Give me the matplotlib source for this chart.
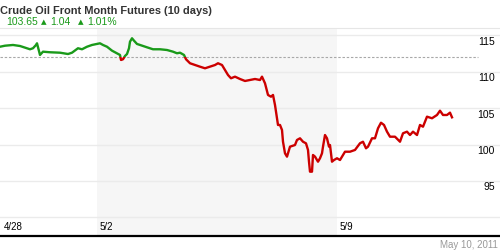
import matplotlib
matplotlib.use("Agg")
import matplotlib.pyplot as plt
import matplotlib.patches as mpatches
import numpy as np

# ---- data (time in hours from start of 4/28 session; 24 h per trading day) ----
hours = [0, 2.5, 6.5, 10, 13.5, 15, 16.5, 18, 18.5, 20, 21.5, 25, 30, 34, 36, 39, 41, 43.5, 46, 48.5,
         50, 51.5, 53.5, 56, 58.5, 60, 60.5, 61.5, 62.5, 63.5, 64.5, 65, 66, 67, 68.5, 70, 73.5, 76.5, 80,
         83.5, 86.5, 88.5, 90, 92, 93, 95, 97.5, 100, 102.5, 105, 107.5, 109, 111, 112.5, 114, 115.5,
         117.5, 120, 122.5, 125, 127.5, 130, 131, 132.5, 134, 135.5, 136.5, 137.5, 139, 140, 141, 141.5,
         142.5, 143.5, 145, 147.5, 148.5, 150, 151.5, 153, 154, 154.5, 155, 156, 156.5, 157.5, 159, 160,
         161, 161.5, 162.5, 163.5, 164.5, 165, 165.5, 166, 167, 168.5, 170, 171.5, 172.5, 175, 177.5,
         180, 181.5, 183, 184, 186, 187.5, 189, 190.5, 192, 193.5, 195, 197.5, 200, 201.5, 203.5, 205,
         206.5, 208.5, 210, 211.5, 213.5, 216, 218.5, 220, 221.5, 223.5, 225, 226]
prices = [113.43, 113.57, 113.67, 113.53, 113.22, 113.08, 113.22, 113.67, 113.90, 112.30, 112.75,
          112.67, 112.61, 112.43, 112.61, 113.22, 113.08, 113.43, 113.67, 113.81,
          113.90, 113.67, 113.43, 112.89, 112.53, 112.30, 111.61, 111.71, 112.16, 112.43, 113.22, 114.12,
          114.59, 114.26, 113.81, 113.67, 113.35, 113.08, 113.08, 112.98, 112.75, 112.53, 112.61, 112.30,
          111.71, 111.16, 110.92, 110.69, 110.47, 110.69, 110.92, 111.16, 110.92, 110.24, 109.55, 109.10,
          109.32, 109.00, 108.73, 108.86, 109.00, 108.86, 109.32, 108.41, 106.81, 106.57, 106.81, 105.43,
          102.69, 102.69, 102.00, 100.39, 98.80, 98.34, 99.71, 99.94, 100.63, 100.86, 100.39, 100.17,
          99.26, 97.65, 96.28, 96.28, 98.57, 98.34, 97.65, 98.12, 98.80, 99.71, 101.31, 100.86, 99.71,
          99.94, 98.80, 97.65, 97.88, 98.12, 97.88, 98.57, 99.02, 99.02, 99.26, 100.18, 100.39, 99.49,
          99.71, 100.86, 100.86, 102.23, 103.00, 102.69, 101.77, 101.08, 101.08, 100.39, 101.55, 101.77,
          101.31, 101.77, 101.31, 102.69, 102.45, 103.83, 103.61, 104.06, 104.65, 104.06, 104.06, 104.38,
          103.74]
ref_price = 112.0
day_labels = ["4/28", "5/2", "5/9"]
day_starts = [0.5, 48.5, 168.5]
shade_start, shade_end = 48.5, 168.5
y_ticks = [90, 95, 100, 105, 110, 115]
y_ticklabels = ["", "95", "100", "105", "110", "115"]
title = "Crude Oil Front Month Futures (10 days)"
last_price, change, pct = "103.65", "1.04", "1.01%"
date_text = "May 10, 2011"

GREEN = "#1a9a1a"
RED = "#cc0000"

plt.rcParams["font.family"] = ["Liberation Sans", "DejaVu Sans"]
W, H = 500, 250
fig = plt.figure(figsize=(W / 100, H / 100), dpi=100)
fig.patch.set_facecolor("white")

ax = fig.add_axes([0, 1 - 236 / H, 1, (236 - 28) / H])
ax.set_xlim(0, 250)
ax.set_ylim(87.45, 116.0)
ax.set_facecolor("white")

ax.axvspan(shade_start, shade_end, color="#f6f6f6", zorder=0, lw=0)
for v in y_ticks:
    ax.axhline(v, color="#ebebeb", lw=1.0, zorder=1)
ax.plot([0, 239], [ref_price, ref_price], ls=(0, (2.2, 1.6)), color="#a8a8a8", lw=0.8, zorder=2)

x = np.array(hours)
y = np.array(prices)
lg, = ax.plot(x, y, color=GREEN, lw=1.7, zorder=3, solid_joinstyle="round")
lr, = ax.plot(x, y, color=RED, lw=1.7, zorder=3, solid_joinstyle="round")
clip_up = mpatches.Rectangle((0, ref_price), 300, 50, transform=ax.transData)
clip_dn = mpatches.Rectangle((0, ref_price - 50), 300, 50, transform=ax.transData)
lg.set_clip_path(clip_up)
lr.set_clip_path(clip_dn)

for v, lab in zip(y_ticks, y_ticklabels):
    if lab:
        ax.annotate(lab, xy=(1, v), xycoords=("axes fraction", "data"), xytext=(-5, -1.5),
                    textcoords="offset pixels", ha="right", va="top", fontsize=7.5, color="black")
for d, lab in zip(day_starts, day_labels):
    ax.annotate(lab, xy=(d, 0), xycoords=("data", "axes fraction"), xytext=(3, 8.5),
                textcoords="offset pixels", ha="left", va="center", fontsize=7, color="black")

ax.set_xticks([])
ax.set_yticks([])
for s in ["left", "right"]:
    ax.spines[s].set_visible(False)
ax.spines["top"].set_color("#e6e6e6")
ax.spines["top"].set_linewidth(0.8)
ax.spines["bottom"].set_color("black")
ax.spines["bottom"].set_linewidth(1.6)

def fx(px):
    return px / W
def fy(py):
    return 1 - py / H

fig.text(fx(0.5), fy(13.5), title, fontsize=7.9, fontweight="bold", color="#333333", va="baseline", ha="left")
fig.text(fx(6), fy(25), last_price, fontsize=7.5, color=GREEN, va="baseline", ha="left")
fig.text(fx(41), fy(24), "\u25b2", fontsize=5.2, color=GREEN, va="baseline", ha="left", family=["DejaVu Sans"])
fig.text(fx(50), fy(25), change, fontsize=7.5, color=GREEN, va="baseline", ha="left")
fig.text(fx(78), fy(24), "\u25b2", fontsize=5.2, color=GREEN, va="baseline", ha="left", family=["DejaVu Sans"])
fig.text(fx(87), fy(25), pct, fontsize=7.5, color=GREEN, va="baseline", ha="left")
fig.text(fx(498), fy(245), date_text, fontsize=7, color="#999999", va="center", ha="right")

fig.savefig("out.png", dpi=100, facecolor="white")
